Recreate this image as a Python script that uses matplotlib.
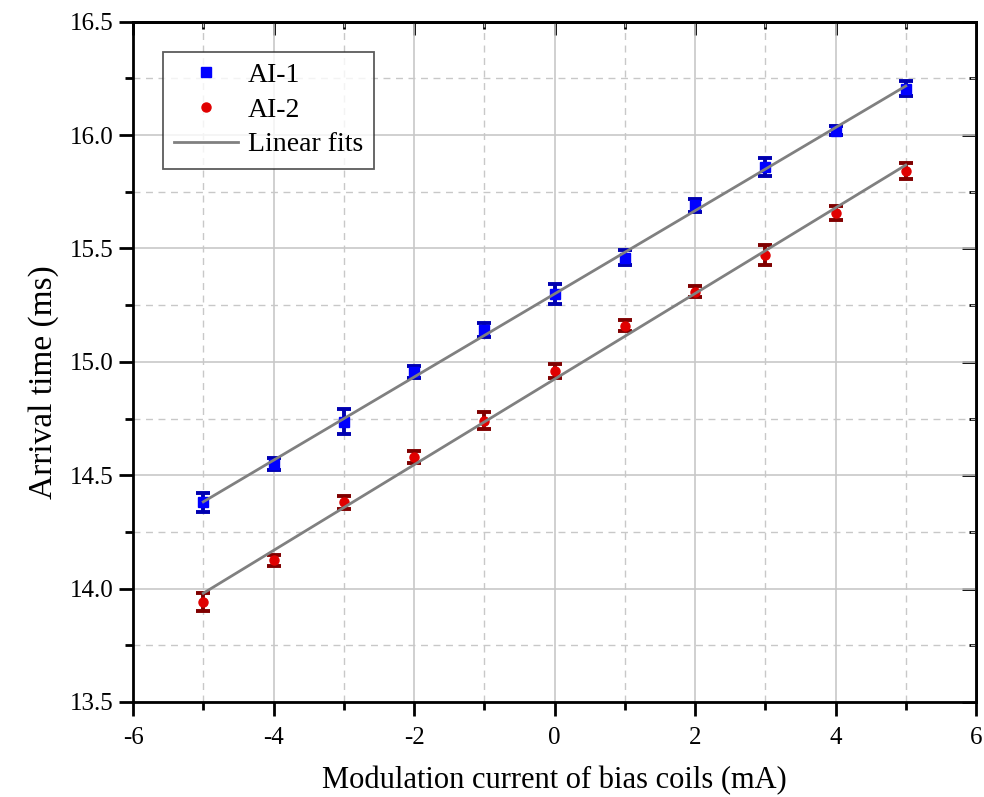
import numpy as np
import matplotlib
matplotlib.use("Agg")
import matplotlib.pyplot as plt
from matplotlib.ticker import MultipleLocator, FuncFormatter
from matplotlib.lines import Line2D

x = [-5, -4, -3, -2, -1, 0, 1, 2, 3, 4, 5]
ai1 = [14.38, 14.55, 14.735, 14.955, 15.14, 15.30, 15.46, 15.69, 15.86, 16.02, 16.205]
ai1_err = [0.04, 0.025, 0.055, 0.025, 0.03, 0.045, 0.033, 0.03, 0.04, 0.02, 0.033]
ai2 = [13.94, 14.125, 14.38, 14.58, 14.74, 14.96, 15.16, 15.31, 15.47, 15.655, 15.84]
ai2_err = [0.04, 0.025, 0.03, 0.025, 0.038, 0.03, 0.026, 0.025, 0.044, 0.03, 0.035]
labels = ['AI-1', 'AI-2', 'Linear fits']

plt.rcParams['font.family'] = ['Liberation Serif', 'DejaVu Serif']

fig = plt.figure(figsize=(9.84, 7.97), dpi=100)
ax = fig.add_axes([0.1352, 0.1192, 0.8567, 0.8536])

xa = np.array(x, dtype=float)
p1 = np.polyfit(xa, ai1, 1)
p2 = np.polyfit(xa, ai2, 1)
xf = np.array([min(x), max(x)], dtype=float)

ax.errorbar(x, ai1, yerr=ai1_err, fmt='s', color='#0000ff', ms=6.5, ecolor='#0000b0',
            elinewidth=2.8, capsize=5, capthick=2.8, zorder=3)
ax.errorbar(x, ai2, yerr=ai2_err, fmt='o', color='#e00000', ms=6.5, ecolor='#800000',
            elinewidth=2.8, capsize=5, capthick=2.8, zorder=3)
ax.plot(xf, np.polyval(p1, xf), color='#808080', lw=2, zorder=4)
ax.plot(xf, np.polyval(p2, xf), color='#808080', lw=2, zorder=4)

ax.set_xlim(-6, 6)
ax.set_ylim(13.5, 16.5)
ax.xaxis.set_major_locator(MultipleLocator(2))
ax.xaxis.set_minor_locator(MultipleLocator(1))
ax.yaxis.set_major_locator(MultipleLocator(0.5))
ax.yaxis.set_minor_locator(MultipleLocator(0.25))
ax.xaxis.set_major_formatter(FuncFormatter(lambda v, p: '%d' % round(v)))
ax.yaxis.set_major_formatter(FuncFormatter(lambda v, p: '%.1f' % v))

ax.grid(which='major', color='#c8c8c8', lw=1.2, ls='-', zorder=0)
ax.grid(which='minor', color='#c8c8c8', lw=1.0, ls=(0, (5, 4)), zorder=0)
ax.set_axisbelow(True)

for s in ax.spines.values():
    s.set_linewidth(2)
ax.tick_params(which='major', direction='out', length=10, width=2, labelsize=18)
ax.tick_params(which='minor', direction='out', length=5.5, width=2)
ax.tick_params(axis='x', which='major', pad=8)
ax.tick_params(axis='y', which='major', pad=4)

secx = ax.secondary_xaxis('top')
secx.xaxis.set_major_locator(MultipleLocator(2))
secx.xaxis.set_minor_locator(MultipleLocator(1))
secx.tick_params(which='major', direction='in', length=9, width=2, labeltop=False)
secx.tick_params(which='minor', direction='in', length=5, width=2)
secx.spines['top'].set_linewidth(2)
secy = ax.secondary_yaxis('right')
secy.yaxis.set_major_locator(MultipleLocator(0.5))
secy.yaxis.set_minor_locator(MultipleLocator(0.25))
secy.tick_params(which='major', direction='in', length=10, width=2, labelright=False)
secy.tick_params(which='minor', direction='in', length=5, width=2)
secy.spines['right'].set_linewidth(2)

ax.set_xlabel('Modulation current of bias coils (mA)', fontsize=22)
ax.xaxis.set_label_coords(0.5, -0.127, transform=ax.transAxes)
ax.xaxis.label.set_va('baseline')
ax.set_ylabel('Arrival time (ms)', fontsize=24)
ax.yaxis.set_label_coords(-0.088, 0.47, transform=ax.transAxes)

h = [Line2D([], [], marker='s', ls='none', color='#0000ff', ms=6.5),
     Line2D([], [], marker='o', ls='none', color='#e00000', ms=6.5),
     Line2D([], [], color='#808080', lw=2)]
leg = ax.legend(h, labels, loc='upper left',
                bbox_to_anchor=(0.0356, 0.956), borderaxespad=0, fontsize=20, frameon=True,
                fancybox=False, edgecolor='#333333', handlelength=2.3, borderpad=0.4,
                labelspacing=0.33, handletextpad=0.35)
leg.get_frame().set_linewidth(1.3)

fig.savefig('out.png', dpi=100)
